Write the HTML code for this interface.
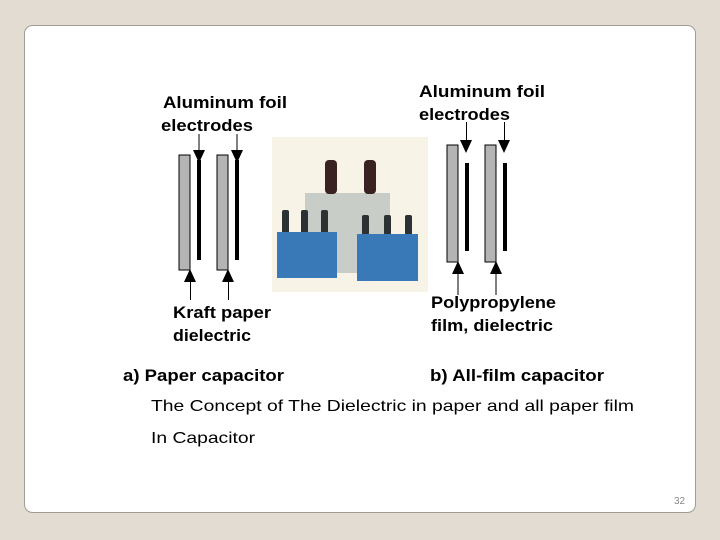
<!DOCTYPE html>
<html><head><style>
body{margin:0;width:720px;height:540px;background:#e2dcd2;overflow:hidden;font-family:"Liberation Sans",sans-serif}
</style></head><body>
<svg width="720" height="540" xmlns="http://www.w3.org/2000/svg" style="position:absolute;left:0;top:0">
<rect x="24.5" y="25.5" width="671" height="487" rx="8" fill="#fff" stroke="#a09c96"/>
<g font-family="Liberation Sans, sans-serif" font-weight="bold" font-size="17" fill="#000" lengthAdjust="spacingAndGlyphs">
<text x="163" y="108" textLength="124" lengthAdjust="spacingAndGlyphs">Aluminum  foil</text>
<text x="161" y="131" textLength="92" lengthAdjust="spacingAndGlyphs">electrodes</text>
<text x="419" y="97" textLength="126" lengthAdjust="spacingAndGlyphs">Aluminum  foil</text>
<text x="419" y="120" textLength="91" lengthAdjust="spacingAndGlyphs">electrodes</text>
<text x="173" y="318" textLength="98" lengthAdjust="spacingAndGlyphs">Kraft  paper</text>
<text x="173" y="341" textLength="78" lengthAdjust="spacingAndGlyphs">dielectric</text>
<text x="431" y="308" textLength="125" lengthAdjust="spacingAndGlyphs">Polypropylene</text>
<text x="431" y="331" textLength="122" lengthAdjust="spacingAndGlyphs">film,  dielectric</text>
<text x="123" y="381" textLength="161" lengthAdjust="spacingAndGlyphs">a) Paper capacitor</text>
<text x="430" y="381" textLength="174" lengthAdjust="spacingAndGlyphs">b) All-film  capacitor</text>
</g>
<g stroke="#000" stroke-width="1">
<rect x="179" y="155" width="11" height="115" fill="#b4b4b4"/>
<rect x="217" y="155" width="11" height="115" fill="#b4b4b4"/>
<rect x="447" y="145" width="11" height="117" fill="#b4b4b4"/>
<rect x="485" y="145" width="11" height="117" fill="#b4b4b4"/>
</g>
<g fill="#000">
<rect x="197" y="160" width="4" height="100"/>
<rect x="235" y="160" width="4" height="100"/>
<rect x="465" y="163" width="4" height="88"/>
<rect x="503" y="163" width="4" height="88"/>
<rect x="198.5" y="134" width="1" height="20"/><polygon points="193,150 205,150 199,163"/>
<rect x="236.5" y="134" width="1" height="20"/><polygon points="231,150 243,150 237,163"/>
<rect x="466" y="122" width="1" height="18"/><polygon points="460,140 472,140 466,153"/>
<rect x="504" y="122" width="1" height="18"/><polygon points="498,140 510,140 504,153"/>
<rect x="190" y="280" width="1" height="20"/><polygon points="184,282 196,282 190,269"/>
<rect x="228" y="280" width="1" height="20"/><polygon points="222,282 234,282 228,269"/>
<rect x="457.5" y="272" width="1" height="23"/><polygon points="452,274 464,274 458,261"/>
<rect x="495.5" y="272" width="1" height="23"/><polygon points="490,274 502,274 496,261"/>
</g>
<rect x="272" y="137" width="156" height="155" fill="#f7f3e6"/>
<rect x="305" y="193" width="85" height="80" fill="#c8cdc8"/>
<g fill="#3a2222">
<rect x="325" y="160" width="12" height="34" rx="4"/>
<rect x="364" y="160" width="12" height="34" rx="4"/>
</g>
<g fill="#2c3234">
<rect x="282" y="210" width="7" height="24" rx="2"/>
<rect x="301" y="210" width="7" height="24" rx="2"/>
<rect x="321" y="210" width="7" height="24" rx="2"/>
<rect x="362" y="215" width="7" height="20" rx="2"/>
<rect x="384" y="215" width="7" height="20" rx="2"/>
<rect x="405" y="215" width="7" height="20" rx="2"/>
</g>
<rect x="277" y="232" width="60" height="46" fill="#3a79b8"/>
<rect x="357" y="234" width="61" height="47" fill="#3a79b8"/>
<g font-family="Liberation Sans, sans-serif" font-size="16" fill="#000">
<text x="151" y="411" textLength="483" lengthAdjust="spacingAndGlyphs">The Concept of The Dielectric in paper and all paper film</text>
<text x="151" y="443" textLength="104" lengthAdjust="spacingAndGlyphs">In Capacitor</text>
</g>
<text x="674" y="504" font-family="Liberation Sans, sans-serif" font-size="10" fill="#888">32</text>
</svg>
</body></html>
